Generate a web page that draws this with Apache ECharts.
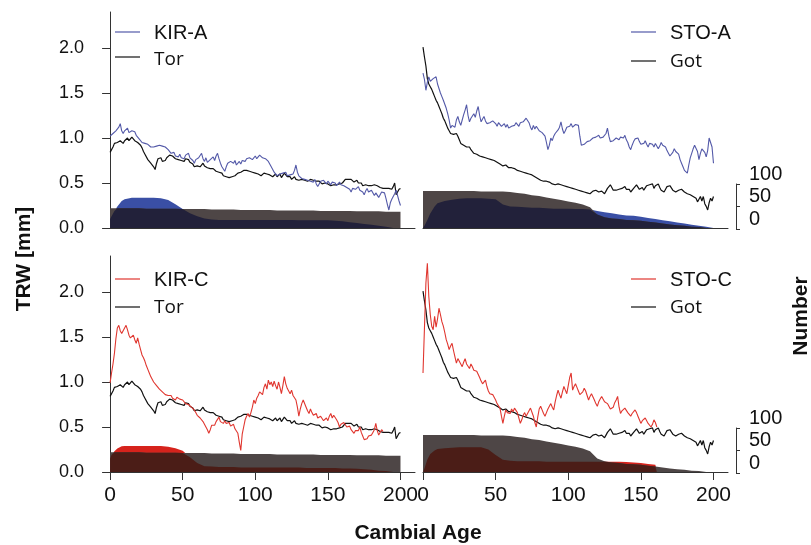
<!DOCTYPE html>
<html>
<head>
<meta charset="utf-8">
<script src="https://cdn.jsdelivr.net/npm/echarts@6/dist/echarts.min.js"></script>
<style>
  html, body { margin: 0; padding: 0; background: #ffffff; }
  #chart { width: 811px; height: 545px; }
</style>
</head>
<body>
<div id="chart"></div>
<script>
// Mean tree-ring width (mm) by cambial age, one value per year starting at age 0
const kirA = [
  1.02,1.03,1.05,1.04,1.08,1.10,1.12,1.16,1.08,1.05,
  1.08,1.10,1.11,1.06,1.04,1.08,1.06,1.07,1.03,1.02,
  0.99,0.97,0.95,0.96,0.94,0.92,0.93,0.91,0.90,0.92,
  0.90,0.89,0.91,0.90,0.92,0.92,0.91,0.89,0.90,0.88,
  0.87,0.85,0.83,0.82,0.84,0.80,0.81,0.79,0.82,0.78,
  0.80,0.77,0.81,0.79,0.83,0.78,0.80,0.75,0.72,0.76,
  0.74,0.78,0.76,0.83,0.77,0.74,0.78,0.73,0.72,0.76,
  0.74,0.79,0.75,0.80,0.83,0.77,0.72,0.68,0.66,0.63,
  0.68,0.72,0.70,0.74,0.76,0.72,0.75,0.70,0.72,0.74,
  0.71,0.75,0.76,0.74,0.77,0.75,0.78,0.79,0.76,0.78,
  0.80,0.77,0.79,0.81,0.80,0.78,0.79,0.77,0.76,0.74,
  0.72,0.68,0.65,0.62,0.60,0.58,0.57,0.60,0.58,0.61,
  0.59,0.62,0.58,0.56,0.59,0.57,0.60,0.64,0.70,0.62,
  0.58,0.56,0.55,0.57,0.54,0.56,0.53,0.55,0.52,0.53,
  0.51,0.54,0.49,0.46,0.49,0.52,0.50,0.53,0.51,0.49,
  0.52,0.50,0.48,0.51,0.49,0.50,0.47,0.49,0.51,0.48,
  0.50,0.47,0.48,0.45,0.47,0.43,0.40,0.44,0.46,0.43,
  0.45,0.46,0.42,0.44,0.40,0.37,0.41,0.44,0.40,0.38,
  0.42,0.40,0.36,0.39,0.37,0.34,0.37,0.40,0.38,0.39,
  0.33,0.26,0.20,0.28,0.32,0.35,0.38,0.42,0.36,0.30,
  0.25
];
const tor = [
  0.84,0.86,0.90,0.94,0.92,0.95,0.94,0.97,0.96,0.94,
  0.97,0.98,1.00,0.97,0.99,1.01,1.00,0.97,0.98,0.95,
  0.93,0.92,0.89,0.85,0.82,0.80,0.76,0.74,0.72,0.70,
  0.68,0.65,0.72,0.77,0.75,0.78,0.74,0.76,0.75,0.78,
  0.80,0.81,0.83,0.80,0.78,0.77,0.79,0.76,0.77,0.75,
  0.76,0.74,0.77,0.75,0.76,0.73,0.74,0.71,0.68,0.70,
  0.69,0.71,0.68,0.70,0.72,0.69,0.70,0.67,0.69,0.66,
  0.68,0.66,0.65,0.63,0.64,0.62,0.60,0.61,0.58,0.56,
  0.57,0.55,0.56,0.54,0.57,0.59,0.58,0.60,0.61,0.60,
  0.62,0.63,0.64,0.62,0.64,0.65,0.63,0.64,0.62,0.63,
  0.61,0.62,0.60,0.61,0.58,0.60,0.61,0.59,0.60,0.58,
  0.59,0.60,0.57,0.58,0.60,0.57,0.59,0.60,0.56,0.58,
  0.61,0.59,0.57,0.55,0.57,0.54,0.55,0.57,0.54,0.56,
  0.53,0.55,0.54,0.56,0.53,0.54,0.52,0.53,0.54,0.52,
  0.53,0.51,0.52,0.50,0.52,0.51,0.49,0.51,0.50,0.48,
  0.49,0.48,0.47,0.49,0.48,0.47,0.48,0.47,0.49,0.48,
  0.50,0.52,0.54,0.55,0.54,0.52,0.54,0.53,0.51,0.52,
  0.53,0.50,0.48,0.50,0.47,0.46,0.48,0.46,0.47,0.45,
  0.47,0.46,0.48,0.46,0.47,0.48,0.45,0.46,0.44,0.45,
  0.44,0.43,0.44,0.45,0.43,0.46,0.50,0.37,0.39,0.43,
  0.44
];
const stoA = [
  1.72,1.65,1.53,1.62,1.68,1.63,1.61,1.66,1.64,1.68,
  1.60,1.55,1.50,1.46,1.42,1.40,1.33,1.27,1.20,1.11,
  1.14,1.16,1.12,1.20,1.24,1.18,1.14,1.20,1.26,1.31,
  1.37,1.25,1.18,1.22,1.20,1.27,1.23,1.30,1.35,1.25,
  1.18,1.21,1.24,1.19,1.16,1.14,1.17,1.15,1.19,1.18,
  1.16,1.13,1.17,1.15,1.13,1.15,1.16,1.12,1.15,1.11,
  1.09,1.13,1.11,1.14,1.17,1.16,1.13,1.17,1.19,1.18,
  1.20,1.22,1.24,1.17,1.12,1.09,1.14,1.10,1.13,1.11,
  1.08,1.10,1.06,1.04,1.02,0.95,0.87,0.92,1.00,0.97,
  1.02,1.05,1.03,1.09,1.12,1.18,1.10,1.05,1.08,1.12,
  1.10,1.13,1.16,1.12,1.11,1.15,1.13,1.14,1.02,0.92,
  0.94,0.93,0.95,0.96,0.98,0.97,0.98,1.00,0.99,1.01,
  1.02,1.03,1.00,0.98,1.01,1.00,1.05,1.11,1.02,0.96,
  0.94,0.97,0.99,1.00,1.00,0.98,1.01,1.03,1.00,1.03,
  0.98,0.95,0.90,0.87,0.92,0.96,0.99,1.00,1.00,0.96,
  0.93,0.95,0.94,0.97,0.93,0.90,0.94,0.96,0.93,0.90,
  0.94,0.92,0.88,0.91,0.95,0.92,0.94,0.90,0.86,0.83,
  0.80,0.79,0.84,0.88,0.85,0.87,0.82,0.76,0.72,0.68,
  0.64,0.63,0.61,0.70,0.78,0.83,0.88,0.92,0.94,0.85,
  0.76,0.83,0.88,0.90,0.84,0.79,0.86,1.00,1.02,0.90,
  0.72
];
const got = [
  2.01,1.90,1.80,1.66,1.60,1.57,1.54,1.50,1.46,1.42,
  1.39,1.35,1.31,1.27,1.22,1.19,1.15,1.11,1.08,1.05,
  1.07,1.04,1.03,1.05,1.02,0.98,0.94,0.95,0.92,0.93,
  0.90,0.89,0.90,0.87,0.86,0.83,0.85,0.82,0.83,0.80,
  0.81,0.79,0.80,0.78,0.79,0.77,0.78,0.76,0.77,0.75,
  0.76,0.73,0.74,0.71,0.72,0.69,0.68,0.70,0.69,0.67,
  0.66,0.67,0.65,0.66,0.64,0.64,0.65,0.63,0.64,0.62,
  0.63,0.61,0.62,0.60,0.61,0.59,0.58,0.57,0.56,0.55,
  0.54,0.53,0.54,0.52,0.51,0.52,0.50,0.51,0.50,0.49,
  0.50,0.48,0.49,0.49,0.47,0.48,0.46,0.47,0.45,0.46,
  0.47,0.45,0.46,0.44,0.45,0.43,0.44,0.42,0.43,0.41,
  0.42,0.40,0.41,0.39,0.40,0.38,0.40,0.41,0.39,0.42,
  0.42,0.40,0.38,0.41,0.39,0.38,0.41,0.44,0.46,0.48,
  0.46,0.42,0.40,0.42,0.40,0.43,0.45,0.44,0.46,0.46,
  0.43,0.41,0.43,0.40,0.42,0.44,0.46,0.48,0.47,0.43,
  0.42,0.45,0.42,0.44,0.47,0.45,0.48,0.46,0.49,0.44,
  0.47,0.46,0.49,0.45,0.42,0.44,0.40,0.43,0.46,0.44,
  0.47,0.45,0.42,0.44,0.40,0.39,0.42,0.40,0.43,0.41,
  0.40,0.42,0.38,0.40,0.37,0.38,0.35,0.37,0.33,0.29,
  0.32,0.35,0.30,0.35,0.27,0.24,0.20,0.28,0.33,0.30,
  0.35
];
const kirC = [
  0.99,1.10,1.20,1.32,1.48,1.60,1.63,1.57,1.54,1.56,
  1.60,1.63,1.58,1.52,1.49,1.51,1.52,1.47,1.43,1.49,
  1.42,1.36,1.30,1.27,1.23,1.18,1.14,1.10,1.06,1.03,
  1.00,0.98,0.96,0.95,0.92,0.90,0.89,0.88,0.86,0.87,
  0.85,0.86,0.85,0.82,0.84,0.80,0.83,0.84,0.81,0.79,
  0.80,0.78,0.76,0.78,0.75,0.73,0.72,0.70,0.69,0.66,
  0.63,0.62,0.60,0.58,0.56,0.54,0.50,0.47,0.43,0.47,
  0.52,0.50,0.52,0.56,0.58,0.61,0.56,0.58,0.54,0.57,
  0.54,0.52,0.55,0.51,0.50,0.53,0.48,0.46,0.43,0.33,
  0.24,0.42,0.50,0.58,0.62,0.65,0.61,0.66,0.72,0.80,
  0.76,0.82,0.85,0.89,0.91,0.86,0.94,0.98,0.92,1.02,
  0.97,1.00,0.95,1.01,0.96,0.92,1.00,0.94,0.87,0.96,
  1.06,0.98,0.93,0.90,0.87,0.91,0.85,0.83,0.80,0.72,
  0.62,0.70,0.76,0.80,0.78,0.72,0.68,0.65,0.70,0.66,
  0.63,0.62,0.65,0.60,0.58,0.62,0.60,0.57,0.58,0.60,
  0.57,0.62,0.65,0.60,0.63,0.65,0.58,0.55,0.50,0.53,
  0.51,0.55,0.54,0.50,0.48,0.51,0.47,0.45,0.43,0.46,
  0.48,0.46,0.50,0.44,0.40,0.36,0.38,0.37,0.40,0.42,
  0.41,0.44,0.47,0.54,0.46,0.41,0.43,0.47,0.45
];
const stoC = [
  1.10,1.60,2.10,2.32,1.95,1.75,1.62,1.58,1.73,1.61,
  1.70,1.82,1.75,1.67,1.62,1.55,1.47,1.42,1.36,1.40,
  1.43,1.35,1.28,1.21,1.26,1.24,1.20,1.17,1.22,1.26,
  1.20,1.18,1.15,1.20,1.17,1.13,1.15,1.12,1.10,1.05,
  1.01,0.98,1.00,1.02,0.95,0.90,0.87,0.89,0.86,0.84,
  0.80,0.76,0.74,0.71,0.62,0.54,0.62,0.69,0.66,0.68,
  0.65,0.70,0.67,0.71,0.73,0.66,0.60,0.54,0.58,0.63,
  0.66,0.62,0.65,0.68,0.71,0.73,0.62,0.55,0.50,0.61,
  0.70,0.73,0.69,0.65,0.62,0.66,0.70,0.73,0.76,0.72,
  0.69,0.78,0.85,0.91,0.86,0.82,0.89,0.95,0.91,0.87,
  0.96,1.05,1.10,0.91,0.95,0.98,0.94,0.90,0.86,0.84,
  0.89,0.93,0.90,0.85,0.80,0.84,0.87,0.85,0.80,0.76,
  0.73,0.78,0.81,0.84,0.82,0.78,0.76,0.76,0.73,0.70,
  0.69,0.72,0.77,0.80,0.84,0.72,0.65,0.68,0.70,0.71,
  0.69,0.66,0.64,0.62,0.65,0.67,0.69,0.66,0.62,0.58,
  0.54,0.57,0.59,0.60,0.57,0.54,0.52,0.50,0.53,0.58,
  0.55,0.50
];

// Sample depth (number of series) at these cambial ages
const countAges = [0,1,3,5,8,10,15,20,25,30,35,40,45,50,55,60,65,70,75,80,85,90,95,100,105,110,
                   115,120,125,130,135,140,145,150,155,160,161,165,170,175,180,185,190,195,200];
const torCount = [44,44,44,44,44,44, 44,44,43,43,43,43,43,42,42,42, 42,41,41,41,41,40,40,40,40,40,
                  39,39,39,39,39,39,38,38,38,38, 38, 38,37,37,37,37,36,36,36];
const kirACount = [20,26,38,48,60,64, 67,67,67,67,66,62,53,42,33,26, 21,19,18,18,18,18,18,18,18,18,
                   18,18,18,17,17,17,17,17,16,15, 15, 13,11,9,7,5,3,0,null];
const kirCCount = [30,38,46,52,57,58, 58,58,58,58,58,56,53,47,33,20, 13,12,11,11,11,10,10,10,10,10,
                   10,10,10,10,9,9,9,9,9,8, 8, 8,7,6,5,3,2,0,null];
const gotCount = [82,82,82,82,82,82, 82,82,82,82,82,81,81,81,81,80, 78,76,73,71,68,65,62,59,56,52,
                  46,30,24,21,20,18,17,16,14,12, 12, 10,8,6,5,3,2,0,null];
const stoACount = [0,5,18,32,48,55, 60,63,65,66,66,66,65,64,52,48, 47,46,45,45,44,43,43,43,42,42,
                   41,38,35,33,30,28,27,25,22,20, 19, 17,15,12,10,7,5,3,0];
const stoCCount = [0,8,28,40,48,51, 53,54,55,55,55,55,50,38,27,25, 24,24,24,24,23,23,23,23,23,23,
                   23,23,23,23,23,22,21,20,18,16, 14, null,null,null,null,null,null,null,null];

const ageTicks = [0, 50, 100, 150, 200];
const countTicks = [0, 50, 100];

// Colours
const C = {
  blueLine: '#5359a8', redLine: '#e0362f', blackLine: '#111111',
  blueArea: '#3a4fa5', redArea: '#d6231c', grayArea: '#4e4646',
  blueOverlap: '#22213a', redOverlap: '#4b1d17', axis: '#333333', text: '#111111'
};
const FONT = '"Liberation Sans", Arial, sans-serif';

function yearly(values) { return values.map((v, i) => [i, v]); }
function counts(values) {
  const out = [];
  countAges.forEach((a, i) => { if (values[i] != null) out.push([a, values[i]]); });
  return out;
}
function shared(a, b) {
  const out = [];
  countAges.forEach((age, i) => {
    if (a[i] != null && b[i] != null) out.push([age, Math.min(a[i], b[i])]);
  });
  return out;
}

function areaSeries(grid, data, color) {
  return {
    type: 'line', xAxisIndex: grid, yAxisIndex: grid * 2 + 1, data,
    symbol: 'none', silent: true, z: 1,
    lineStyle: { width: 0 }, areaStyle: { color, opacity: 1 }
  };
}
function lineSeries(grid, name, values, color, width) {
  return {
    type: 'line', name, xAxisIndex: grid, yAxisIndex: grid * 2, data: yearly(values),
    symbol: 'none', silent: true, z: 3,
    lineStyle: { color, width: width || 1.1 }
  };
}

// Panel layout: 0 top-left, 1 top-right, 2 bottom-left, 3 bottom-right, 4/5 sample-depth scales
const grids = [
  { left: 105, top: 12, width: 310, height: 216 },
  { left: 423, top: 12, width: 305, height: 216 },
  { left: 105, top: 256, width: 310, height: 216 },
  { left: 423, top: 256, width: 305, height: 216 },
  { left: 736, top: 184, width: 1, height: 45 },
  { left: 736, top: 428, width: 1, height: 45 }
];

function ageAxis(grid, withLabels, left) {
  return {
    type: 'value', gridIndex: grid,
    min: left ? -3.5 : 0, max: 210,
    axisLine: { show: true, onZero: false, lineStyle: { color: C.axis, width: 1 } },
    axisTick: withLabels
      ? { show: true, length: 8, customValues: ageTicks, lineStyle: { color: C.axis } }
      : { show: false },
    axisLabel: withLabels
      ? { show: true, customValues: ageTicks, fontSize: 21, fontFamily: FONT, color: C.text, margin: 13 }
      : { show: false },
    splitLine: { show: false }
  };
}
function trwAxis(grid, visible) {
  return {
    type: 'value', gridIndex: grid, min: 0, max: 2.4, interval: 0.5, show: visible,
    axisLine: { show: true, lineStyle: { color: C.axis, width: 1 } },
    axisTick: { show: true, length: 8, lineStyle: { color: C.axis } },
    axisLabel: {
      fontSize: 18, fontFamily: FONT, color: C.text, margin: 21, showMaxLabel: false,
      formatter: v => v.toFixed(1)
    },
    splitLine: { show: false }
  };
}
function countAxis(grid) {
  return { type: 'value', gridIndex: grid, min: 0, max: 480, show: false, splitLine: { show: false } };
}
function depthScale(grid) {
  return {
    type: 'value', gridIndex: grid, position: 'right', min: 0, max: 100, interval: 50,
    axisLine: { show: true, lineStyle: { color: C.axis, width: 1 } },
    axisTick: { show: true, length: 4, lineStyle: { color: C.axis } },
    axisLabel: {
      fontSize: 20, fontFamily: FONT, color: C.text, margin: 12, verticalAlign: 'bottom',
      customValues: countTicks
    },
    splitLine: { show: false }
  };
}

const xAxes = [
  ageAxis(0, false, true), ageAxis(1, false, false),
  ageAxis(2, true, true), ageAxis(3, true, false),
  { type: 'value', gridIndex: 4, show: false, min: 0, max: 1 },
  { type: 'value', gridIndex: 5, show: false, min: 0, max: 1 }
];
const yAxes = [
  trwAxis(0, true), countAxis(0),
  trwAxis(1, false), countAxis(1),
  trwAxis(2, true), countAxis(2),
  trwAxis(3, false), countAxis(3),
  depthScale(4), depthScale(5)
];

const series = [
  // sample depth: site series, reference chronology, and their shared part
  areaSeries(0, counts(kirACount), C.blueArea),
  areaSeries(0, counts(torCount), C.grayArea),
  areaSeries(0, shared(kirACount, torCount), C.blueOverlap),
  areaSeries(1, counts(stoACount), C.blueArea),
  areaSeries(1, counts(gotCount), C.grayArea),
  areaSeries(1, shared(stoACount, gotCount), C.blueOverlap),
  areaSeries(2, counts(kirCCount), C.redArea),
  areaSeries(2, counts(torCount), C.grayArea),
  areaSeries(2, shared(kirCCount, torCount), C.redOverlap),
  areaSeries(3, counts(stoCCount), C.redArea),
  areaSeries(3, counts(gotCount), C.grayArea),
  areaSeries(3, shared(stoCCount, gotCount), C.redOverlap),
  // ring-width curves
  lineSeries(0, 'Tor', tor, C.blackLine, 1.2),
  lineSeries(0, 'KIR-A', kirA, C.blueLine),
  lineSeries(1, 'Got', got, C.blackLine, 1.2),
  lineSeries(1, 'STO-A', stoA, C.blueLine),
  lineSeries(2, 'Tor', tor, C.blackLine, 1.2),
  lineSeries(2, 'KIR-C', kirC, C.redLine),
  lineSeries(3, 'Got', got, C.blackLine, 1.2),
  lineSeries(3, 'STO-C', stoC, C.redLine)
];

// Legend keys drawn per panel
function legendKey(x, y, color, label, textY, family) {
  return [
    { type: 'line', shape: { x1: x, y1: y, x2: x + 25, y2: y }, style: { stroke: color, lineWidth: 1.2 }, silent: true },
    { type: 'text', x: x + 39, y: textY, silent: true,
      style: { text: label, fill: C.text, font: (family ? '19px ' + family : '20px ' + FONT), align: 'left', verticalAlign: 'middle' } }
  ];
}
const graphic = [].concat(
  legendKey(115, 32, C.blueLine, 'KIR-A', 33),
  legendKey(115, 57, C.blackLine, 'Tor', 60, '"Open Sans", sans-serif'),
  legendKey(631, 32, C.blueLine, 'STO-A', 33),
  legendKey(631, 61, C.blackLine, 'Got', 62, '"Open Sans", sans-serif'),
  legendKey(115, 279, C.redLine, 'KIR-C', 280),
  legendKey(115, 307, C.blackLine, 'Tor', 308, '"Open Sans", sans-serif'),
  legendKey(631, 279, C.redLine, 'STO-C', 280),
  legendKey(631, 307, C.blackLine, 'Got', 308, '"Open Sans", sans-serif'),
  [
    { type: 'text', x: 24, y: 259, rotation: Math.PI / 2, silent: true,
      style: { text: 'TRW [mm]', fill: C.text, font: 'bold 21px ' + FONT, align: 'center', verticalAlign: 'middle' } },
    { type: 'text', x: 801, y: 316, rotation: Math.PI / 2, silent: true,
      style: { text: 'Number', fill: C.text, font: 'bold 21px ' + FONT, align: 'center', verticalAlign: 'middle' } },
    { type: 'text', x: 418, y: 533, silent: true,
      style: { text: 'Cambial Age', fill: C.text, font: 'bold 21px ' + FONT, align: 'center', verticalAlign: 'middle' } }
  ]
);

const chart = echarts.init(document.getElementById('chart'), null, { renderer: 'canvas' });
chart.setOption({
  animation: false,
  backgroundColor: '#ffffff',
  grid: grids,
  xAxis: xAxes,
  yAxis: yAxes,
  series,
  graphic
});
</script>
</body>
</html>
